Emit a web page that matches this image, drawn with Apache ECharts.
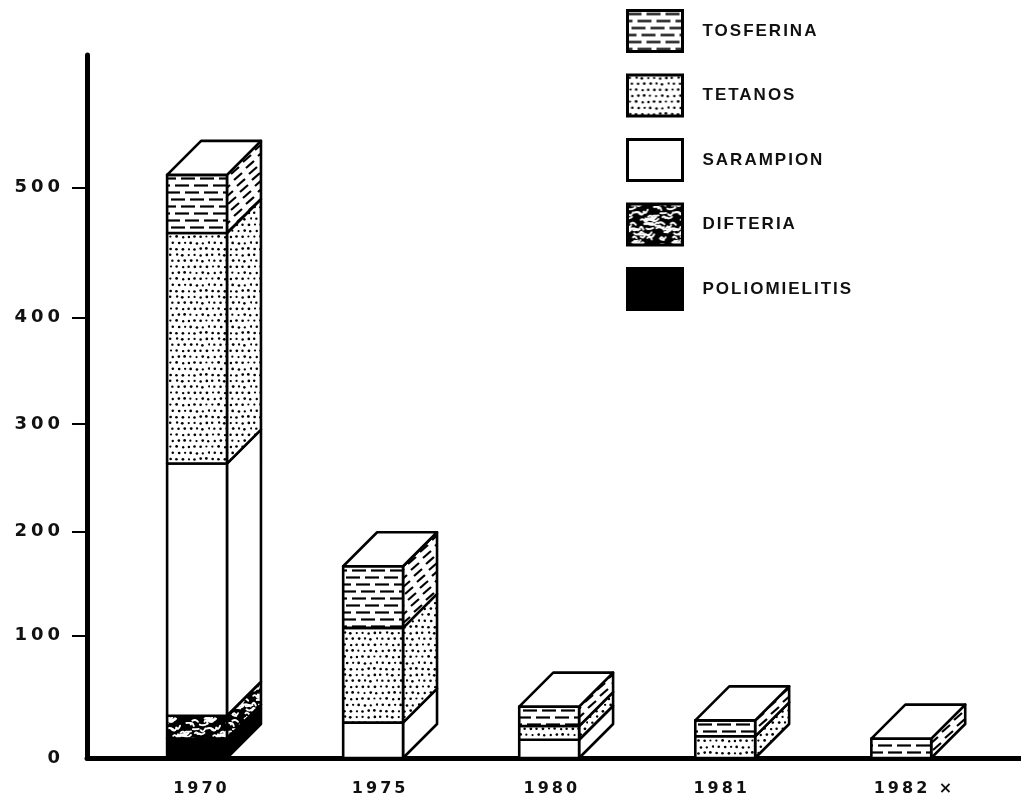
<!DOCTYPE html>
<html>
<head>
<meta charset="utf-8">
<style>html,body{margin:0;padding:0;background:#fff}#c{width:1021px;height:802px}</style>
<script src="https://cdn.jsdelivr.net/npm/echarts@6/dist/echarts.min.js"></script>
</head>
<body>
<div id="c"></div>
<script>
// ---- data ----
const years = ['1970', '1975', '1980', '1981', '1982 ×'];
const poliomielitis = [17, 0, 0, 0, 0];
const difteria = [20, 0, 0, 0, 0];
const sarampion = [221, 31, 16, 0, 0];
const tetanos = [202, 83, 12, 19, 0];
const tosferina = [51, 54, 17, 14, 17];
const yTickLabels = ['0', '100', '200', '300', '400', '500'];
// the printed scale is hand-ruled: where each label really sits on the linear axis
const yTickAt = [0, 107.5, 198.5, 292.5, 386, 500];
// year labels are hand-lettered slightly off the bar centres
const yearLabelAt = [0.025, 0.04, 0.015, -0.02, 0.075];

// ---- letter spacing for the wide hand lettering ----
const baseFillText = CanvasRenderingContext2D.prototype.fillText;
CanvasRenderingContext2D.prototype.fillText = function (t, x, y, m) {
  const f = this.font;
  this.letterSpacing = f.includes('Liberation') ? '2px' : f.includes('18px') ? '4px' : '3px';
  baseFillText.call(this, t, x, y, m);
  this.letterSpacing = '0px';
};

// ---- hatch textures ----
function hash(i) { const s = Math.sin(i * 12.9898) * 43758.5453; return s - Math.floor(s); }
function tile(w, h, draw, bg) {
  const c = document.createElement('canvas');
  c.width = w; c.height = h;
  const g = c.getContext('2d');
  g.fillStyle = bg || '#fff';
  g.fillRect(0, 0, w, h);
  g.fillStyle = '#000'; g.strokeStyle = '#000';
  draw(g, w, h);
  return { image: c, repeat: 'repeat' };
}
const dashFront = tile(57, 28, (g, w) => {
  g.lineWidth = 2.2;
  [0, 10, 4, 14].forEach((o, r) => {
    for (let k = -1; k < 4; k++) {
      g.beginPath();
      g.moveTo(o + k * 19, 3.5 + r * 7);
      g.lineTo(o + k * 19 + 14, 3.5 + r * 7);
      g.stroke();
    }
  });
});
const dashSide = tile(36, 36, (g, w, h) => {
  g.lineWidth = 2.2; g.lineCap = 'butt';
  for (let r = 0; r < 6; r++) for (let k = 0; k < 2; k++) for (let a = -1; a <= 1; a++) for (let b = -1; b <= 1; b++) {
    const x = k * 18 + r * 3 + a * w, y = r * 6 + b * h;
    g.beginPath(); g.moveTo(x, y); g.lineTo(x + 8, y - 7); g.stroke();
  }
});
const dots = tile(42, 42, (g) => {
  for (let r = 0; r < 7; r++) for (let k = 0; k < 7; k++) {
    const n = r * 7 + k;
    g.beginPath();
    g.arc(3 + k * 6 + (r % 2 ? 1.2 : -0.8) + hash(n) * 1.0, 3 + r * 6 + hash(n + 50) * 1.2 - 0.6, 1.1 + hash(n + 99) * 0.3, 0, 6.3);
    g.fill();
  }
});
const blotch = tile(40, 40, (g, w, h) => {
  g.lineWidth = 1.9; g.lineCap = 'round'; g.strokeStyle = '#fff';
  for (let i = 0; i < 60; i++) {
    const x = hash(i + 7) * w, y = hash(i + 211) * h;
    const dx = 3 + hash(i + 31) * 5, dy = (hash(i + 77) - 0.5) * 7;
    for (let a = -1; a <= 1; a++) for (let b = -1; b <= 1; b++) {
      g.beginPath();
      g.moveTo(x + a * w, y + b * h);
      g.quadraticCurveTo(x + a * w + dx / 2, y + b * h - dy, x + a * w + dx, y + b * h + dy / 2);
      g.stroke();
    }
  }
}, '#000');

// ---- stacked 3-D bars ----
const layers = [
  { name: 'POLIOMIELITIS', values: poliomielitis, front: '#000', side: '#000' },
  { name: 'DIFTERIA', values: difteria, front: blotch, side: blotch },
  { name: 'SARAMPION', values: sarampion, front: '#fff', side: '#fff' },
  { name: 'TETANOS', values: tetanos, front: dots, side: dots },
  { name: 'TOSFERINA', values: tosferina, front: dashFront, side: dashSide }
];
const totals = years.map((_, i) => layers.reduce((s, l) => s + l.values[i], 0));
const barUnits = 0.34, depth = 34;

function layerSeries(layer, idx) {
  const data = [];
  years.forEach((_, i) => {
    if (!layer.values[i]) return;
    const start = layers.slice(0, idx).reduce((s, l) => s + l.values[i], 0);
    data.push([i, start, start + layer.values[i]]);
  });
  return {
    type: 'custom',
    name: layer.name,
    clip: false,
    silent: true,
    z: 3 + idx,
    itemStyle: { color: layer.front },
    encode: { x: 0, y: [1, 2] },
    data: data,
    renderItem: function (params, api) {
      const x = api.value(0), lo = api.value(1), hi = api.value(2);
      const a = api.coord([x - barUnits / 2, lo]);
      const b = api.coord([x + barUnits / 2, hi]);
      const L = a[0], R = b[0], Y0 = a[1], Y1 = b[1];
      const line = { stroke: '#000', lineWidth: 2.6, lineJoin: 'round' };
      const kids = [
        { type: 'polygon', shape: { points: [[R, Y0], [R + depth, Y0 - depth], [R + depth, Y1 - depth], [R, Y1]] },
          style: Object.assign({ fill: layer.side }, line) },
        { type: 'polygon', shape: { points: [[L, Y0], [R, Y0], [R, Y1], [L, Y1]] },
          style: Object.assign({ fill: layer.front }, line) }
      ];
      if (Math.abs(hi - totals[x]) < 1e-6) {
        kids.push({ type: 'polygon', shape: { points: [[L, Y1], [R, Y1], [R + depth, Y1 - depth], [L + depth, Y1 - depth]] },
          style: Object.assign({ fill: '#fff' }, line) });
      }
      return { type: 'group', children: kids };
    }
  };
}

const chart = echarts.init(document.getElementById('c'), null, { renderer: 'canvas' });
chart.setOption({
  animation: false,
  backgroundColor: '#fff',
  grid: { left: 87, right: 0, top: 55, bottom: 44 },
  legend: {
    orient: 'vertical', left: 626, top: 9, padding: 0, icon: 'rect',
    itemWidth: 55, itemHeight: 41, itemGap: 20.5, selectedMode: false,
    data: ['TOSFERINA', 'TETANOS', 'SARAMPION', 'DIFTERIA', 'POLIOMIELITIS'],
    itemStyle: { borderColor: '#000', borderWidth: 3 },
    textStyle: { color: '#111', fontFamily: 'Liberation Sans', fontWeight: 'bold', fontSize: 17, padding: [0, 0, 0, 15] }
  },
  xAxis: {
    type: 'value', min: -0.625, max: 4.68, splitLine: { show: false },
    axisLine: { show: true, onZero: false, lineStyle: { color: '#000', width: 5 } },
    axisTick: { show: false },
    axisLabel: {
      customValues: yearLabelAt.map((d, i) => i + d),
      hideOverlap: false, showMinLabel: true, showMaxLabel: true,
      margin: 23, color: '#111', fontFamily: 'DejaVu Sans', fontWeight: 'bold', fontSize: 16,
      formatter: v => years[Math.round(v)]
    }
  },
  yAxis: {
    type: 'value', min: 0, max: 616, splitLine: { show: false },
    axisLine: { show: true, onZero: false, lineStyle: { color: '#000', width: 5, cap: 'round' } },
    axisTick: { show: true, length: 15, inside: false, customValues: yTickAt.slice(1), lineStyle: { color: '#000', width: 2 } },
    axisLabel: {
      customValues: yTickAt, hideOverlap: false,
      margin: 23, color: '#111', fontFamily: 'DejaVu Sans', fontWeight: 'bold', fontSize: 18, padding: [3, 0, 0, 0],
      formatter: v => yTickLabels[yTickAt.indexOf(v)]
    }
  },
  series: layers.map(layerSeries)
});
</script>
</body>
</html>
